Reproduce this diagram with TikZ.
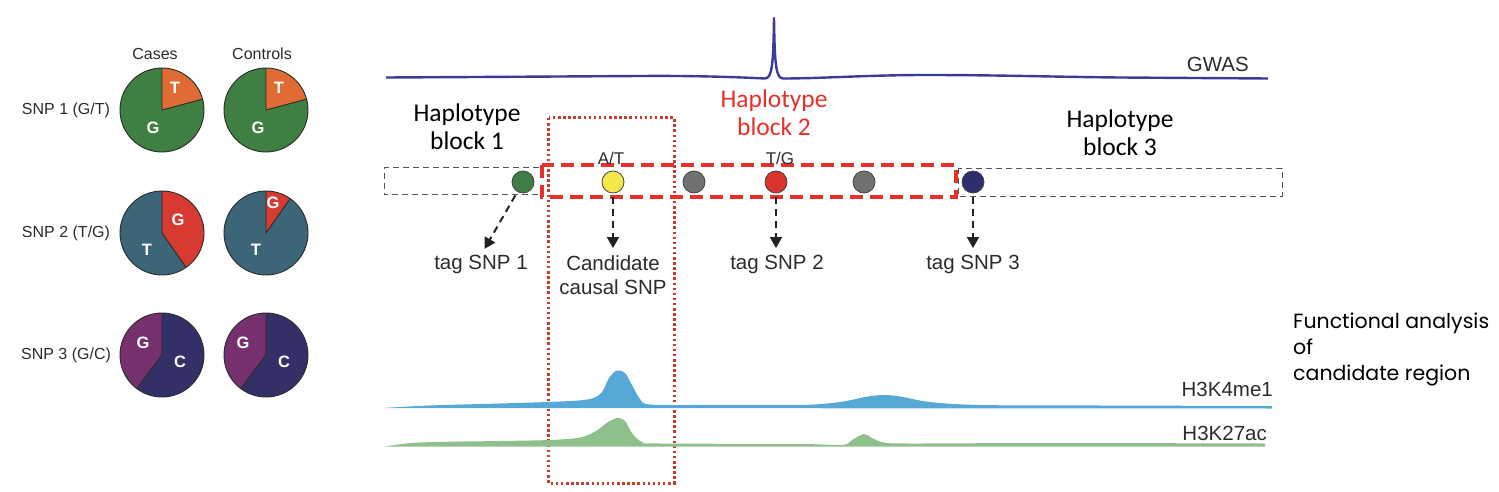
\documentclass[tikz,border=0pt]{standalone}
\usepackage{fontspec}
\setmainfont{Liberation Sans}
\newfontfamily\hapfont{Carlito}
\newfontfamily\funcfont{Poppins}
\usetikzlibrary{arrows.meta}
\definecolor{gwasblue}{HTML}{3B3B98}
\definecolor{trkblue}{HTML}{56A8D6}
\definecolor{trkgreen}{HTML}{8DC08A}
\definecolor{dotred}{HTML}{C63E2A}
\definecolor{hapred}{HTML}{E8302A}
\definecolor{boxgray}{HTML}{555555}
\definecolor{txtgray}{HTML}{2B2B2B}
\definecolor{pieline}{HTML}{2A2A2A}
\definecolor{snpline}{HTML}{444444}
\definecolor{arrowgray}{HTML}{222222}
\definecolor{pgreen}{HTML}{3F7F42}
\definecolor{porange}{HTML}{E06B35}
\definecolor{pteal}{HTML}{3C6678}
\definecolor{pred}{HTML}{D63A30}
\definecolor{ppurple}{HTML}{76306E}
\definecolor{pnavy}{HTML}{333068}
\definecolor{cgreen}{HTML}{3E7D45}
\definecolor{cyellow}{HTML}{F4E84A}
\definecolor{cgray}{HTML}{727070}
\definecolor{cred}{HTML}{D8342C}
\definecolor{cnavy}{HTML}{2E2E6E}
% center, start angle, end angle, colour
\newcommand{\mypieslice}[4]{%
  \fill[#4] (#1) -- ++(#2:42pt) arc[start angle=#2, end angle=#3, radius=42pt] -- cycle;}
\newcommand{\mypieedge}[3]{%
  \draw[pieedge] (#1) circle[radius=42pt];
  \draw[pieedge] (#1) ++(#2:42pt) -- (#1) -- ++(#3:42pt);}
\begin{document}
\begin{tikzpicture}[x=1pt,y=-1pt,
  lbl/.style={font=\fontsize{16}{18}\selectfont, text=txtgray, inner sep=0pt},
  trk/.style={font=\fontsize{20.5}{24}\selectfont, text=txtgray, inner sep=0pt},
  allele/.style={font=\fontsize{17}{19}\selectfont, text=txtgray, inner sep=0pt},
  pieletter/.style={font=\fontsize{16.5}{18}\selectfont\bfseries, text=white, inner sep=0pt},
  pieedge/.style={draw=pieline, line width=0.9pt},
  snp/.style={circle, draw=snpline, line width=0.8pt, minimum size=22pt, inner sep=0pt},
  tagarrow/.style={draw=arrowgray, line width=2pt, dash pattern=on 7pt off 5pt,
     -{Triangle[width=12pt,length=11pt]}, shorten <=4pt, shorten >=7pt},
  hap/.style={font=\hapfont\fontsize{25.5}{28}\selectfont, align=center, inner sep=0pt, anchor=north},
  graybox/.style={draw=boxgray, line width=0.9pt, dash pattern=on 6pt off 4pt},
  redbox/.style={draw=hapred, line width=3.5pt, dash pattern=on 13pt off 7pt},
  dotbox/.style={draw=dotred, line width=3pt, dash pattern=on 2.5pt off 2.6pt},
]
\useasboundingbox (0,0) rectangle (1499,492);

% ---------------- pies ----------------
\node[lbl] (cases) at (155,54) {Cases};
\node[lbl] (controls) at (262,54) {Controls};
\node[lbl] (snp1) at (66,110) {SNP 1 (G/T)};
\node[lbl] (snp2) at (66,233) {SNP 2 (T/G)};
\node[lbl] (snp3) at (66,355) {SNP 3 (G/C)};

\coordinate (p11) at (162,110);
\coordinate (p12) at (266,110);
\coordinate (p21) at (162,233);
\coordinate (p22) at (266,233);
\coordinate (p31) at (162,355);
\coordinate (p32) at (266,355);

% SNP 1
\fill[pgreen] (p11) circle[radius=42pt];
\mypieslice{p11}{15}{90}{porange}
\mypieedge{p11}{15}{90}
\fill[pgreen] (p12) circle[radius=42pt];
\mypieslice{p12}{15}{90}{porange}
\mypieedge{p12}{15}{90}
% SNP 2
\fill[pteal] (p21) circle[radius=42pt];
\mypieslice{p21}{-55}{90}{pred}
\mypieedge{p21}{-55}{90}
\fill[pteal] (p22) circle[radius=42pt];
\mypieslice{p22}{55}{90}{pred}
\mypieedge{p22}{55}{90}
% SNP 3
\fill[pnavy] (p31) circle[radius=42pt];
\mypieslice{p31}{90}{233}{ppurple}
\mypieedge{p31}{90}{233}
\fill[pnavy] (p32) circle[radius=42pt];
\mypieslice{p32}{90}{233}{ppurple}
\mypieedge{p32}{90}{233}

\node[pieletter] (l11t) at (175,88) {T};
\node[pieletter] (l11g) at (153,128) {G};
\node[pieletter] (l12t) at (279,88) {T};
\node[pieletter] (l12g) at (258,128) {G};
\node[pieletter] (l21g) at (178,220) {G};
\node[pieletter] (l21t) at (147,250) {T};
\node[pieletter] (l22g) at (273,203) {G};
\node[pieletter] (l22t) at (256,250) {T};
\node[pieletter] (l31g) at (143,343) {G};
\node[pieletter] (l31c) at (180,362) {C};
\node[pieletter] (l32g) at (243,343) {G};
\node[pieletter] (l32c) at (284,362) {C};

% ---------------- GWAS ----------------
\draw[gwasblue, line width=2.4pt, line join=round]
  (386,77.5) .. controls (480,77) and (560,76.5) .. (640,76)
  .. controls (700,75.5) and (745,77.5) .. (765,78.5)
  .. controls (772,78) and (773.3,66) .. (774,18)
  .. controls (774.7,66) and (776,78) .. (783,78.5)
  .. controls (820,78.5) and (870,75) .. (925,75)
  .. controls (1000,75) and (1060,77) .. (1120,77.5)
  -- (1268,78.5);
\node[trk, anchor=east] (gwas) at (1249,64.5) {GWAS};

% ---------------- haplotype blocks ----------------
\node[hap] (hb1) at (467,104) {Haplotype\\block 1};
\node[hap, text=hapred] (hb2) at (774,90) {Haplotype\\block 2};
\node[hap] (hb3) at (1120,110) {Haplotype\\block 3};

\draw[graybox] (539,167.5) -- (384,167.5) -- (384,194.5) -- (539,194.5);
\draw[graybox] (958,168) rectangle (1282,196);

% candidate region (dotted)
\draw[dotbox] (548.5,118) rectangle (674,483);

% SNP circles
\node[snp, fill=cgreen] (c1) at (523,182) {};
\node[snp, fill=cyellow] (c2) at (613,182) {};
\node[snp, fill=cgray] (c3) at (694,182) {};
\node[snp, fill=cred] (c4) at (776,182) {};
\node[snp, fill=cgray] (c5) at (864,182) {};
\node[snp, fill=cnavy] (c6) at (973,182) {};

\draw[redbox] (542,165) rectangle (956,197);

\node[allele] (at) at (611,158) {A/T};
\node[allele] (tg) at (780,158) {T/G};

% tag labels
\node[trk, anchor=north] (tag1) at (481,255) {tag SNP 1};
\node[trk, anchor=north, align=center] (cand) at (613,255) {Candidate\\causal SNP};
\node[trk, anchor=north] (tag2) at (777,255) {tag SNP 2};
\node[trk, anchor=north] (tag3) at (973,255) {tag SNP 3};

\draw[tagarrow] (c1) -- (tag1.north);
\draw[tagarrow] (c2) -- (cand.north);
\draw[tagarrow] (c4) -- (tag2.north -| c4);
\draw[tagarrow] (c6) -- (tag3.north);

% ---------------- epigenomic tracks ----------------
\fill[trkblue] plot[smooth, tension=0.55] coordinates {
  (383,408) (430,405.5) (500,403.5) (560,401.5) (590,399) (602,392) (609,378)
  (617,370.5) (625,373) (632,385) (640,399) (650,404.5) (700,405) (800,405)
  (840,402) (865,397) (883,395) (900,396.5) (930,402) (980,405) (1100,405.5) (1272,406)}
  -- (1272,408.5) -- cycle;
\node[trk, anchor=east] (h3k4) at (1273,389.5) {H3K4me1};

\fill[trkgreen] plot[smooth, tension=0.55] coordinates {
  (385,446.5) (420,442.5) (500,441) (550,440) (580,437.5) (596,431) (608,422)
  (618,418) (625,421) (632,433) (642,442) (660,443.5) (800,444) (842,445)
  (852,440) (864,434) (872,438) (884,442.5) (910,443.5) (1050,443) (1265,443.5)}
  -- (1265,446.5) -- cycle;
\node[trk, anchor=east] (h3k27) at (1267,433.5) {H3K27ac};

% ---------------- functional analysis ----------------
\node[font=\funcfont\fontsize{20.5}{26}\selectfont, align=left, anchor=north west, inner sep=0pt]
  (func) at (1293,313) {Functional analysis\\of\\candidate region};
\end{tikzpicture}
\end{document}
